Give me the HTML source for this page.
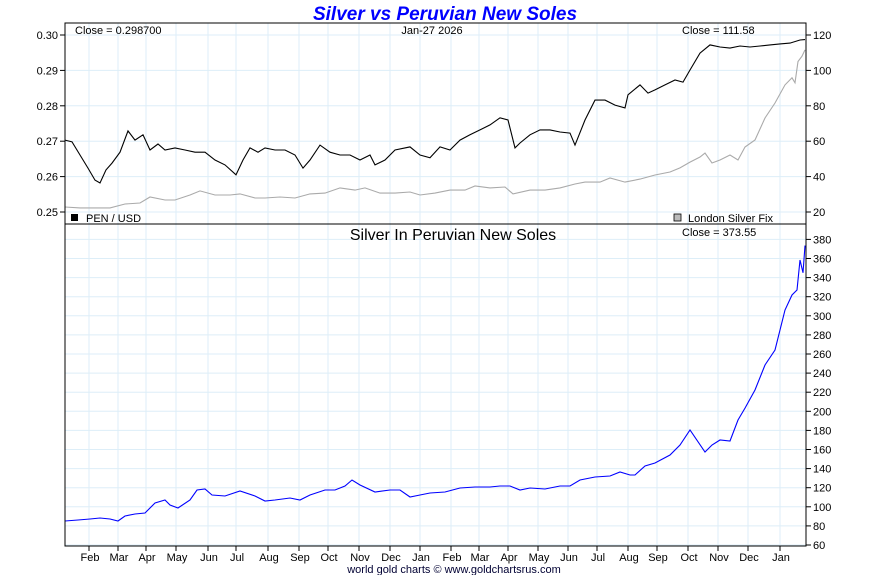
<!DOCTYPE html>
<html><head><meta charset="utf-8"><style>
html,body{margin:0;padding:0;background:#fff;}
svg{display:block;font-family:"Liberation Sans",Arial,sans-serif;}
</style></head><body>
<svg id="chart" width="890" height="575" viewBox="0 0 890 575">
<text x="445" y="20" text-anchor="middle" font-size="19" font-weight="bold" font-style="italic" fill="#0000ff">Silver vs Peruvian New Soles</text>
<g id="grid"></g>
<g id="series"></g>
<rect x="65" y="23" width="741" height="201" fill="none" stroke="#000" stroke-width="1"/>
<rect x="65" y="224" width="741" height="322" fill="none" stroke="#000" stroke-width="1"/>
<g id="axes" font-size="11" fill="#000"></g>
<text x="75" y="34" font-size="11">Close = 0.298700</text>
<text x="432" y="34" font-size="11" text-anchor="middle">Jan-27  2026</text>
<text x="682" y="34" font-size="11">Close = 111.58</text>
<rect x="71" y="214" width="7" height="7" fill="#000"/>
<text x="86" y="222" font-size="11">PEN / USD</text>
<rect x="674" y="214" width="7" height="7" fill="#bbb" stroke="#000" stroke-width="0.8"/>
<text x="688" y="222" font-size="11">London Silver Fix</text>
<text x="453" y="240" font-size="16" text-anchor="middle">Silver In Peruvian New Soles</text>
<text x="682" y="236" font-size="11">Close = 373.55</text>
<text x="454" y="573" font-size="11" text-anchor="middle" fill="#000033">world gold charts © www.goldchartsrus.com</text>
</svg>
<script>
const days=[0,7,15,23,30,35,41,47,55,63,70,78,85,93,100,110,120,130,140,150,160,171,178,185,193,200,210,220,230,238,245,255,265,275,285,295,305,310,320,330,345,355,365,375,385,395,405,415,425,435,443,450,455,465,475,485,495,505,510,520,530,540,550,560,563,575,583,590,600,610,618,625,635,645,655,665,675,685,695,705,715,725,735,740];
const penUsd=[.2703,.2698,.2661,.2624,.2590,.2582,.2619,.2638,.2669,.2729,.2703,.2718,.2675,.2692,.2675,.2681,.2675,.2669,.2669,.2647,.2633,.2605,.2647,.2681,.2669,.2681,.2675,.2675,.2661,.2624,.2647,.2689,.2669,.2661,.2661,.2647,.2661,.2633,.2647,.2675,.2684,.2661,.2653,.2684,.2675,.2703,.2718,.2732,.2746,.2766,.2760,.2681,.2695,.2718,.2732,.2732,.2726,.2723,.2689,.2760,.2816,.2816,.2802,.2794,.2831,.2859,.2836,.2845,.2859,.2873,.2867,.2901,.2949,.2972,.2966,.2963,.2969,.2966,.2969,.2972,.2975,.2977,.2986,.2987];
const silverDays=[0,15,30,45,60,75,85,100,110,125,135,150,165,175,190,200,215,230,245,260,275,290,300,315,330,345,355,370,385,400,410,425,440,448,465,480,495,510,520,535,545,560,575,590,605,615,625,635,640,647,655,665,673,680,690,700,710,720,727,730,733,737,740];
const silverUsd=[22.8,22.3,22.3,22.3,24.5,25.1,28.5,26.8,26.8,29.6,31.9,29.6,29.6,30.2,27.9,27.9,28.5,27.9,30.2,30.7,33.6,32.4,33.6,30.7,30.7,31.3,29.6,30.7,32.4,32.4,34.7,33.6,34.1,30.2,32.4,32.4,33.6,35.8,36.9,36.9,39.2,36.9,38.6,40.9,42.6,44.9,48.2,51.1,53.3,47.7,49.4,52.2,49.4,56.7,60.7,73.1,81.6,91.8,95.8,93,105,108,111.58];
const penDays=[0,13,25,35,45,53,60,70,80,90,100,105,113,125,132,140,147,160,175,190,200,210,225,235,245,260,270,280,287,295,310,325,335,345,355,365,380,395,410,425,435,445,455,465,480,495,505,515,530,545,555,565,570,580,590,605,615,625,640,647,655,665,673,680,690,700,710,720,727,732,735,738,740];
const silverPen=[85.1,86.2,87.2,88.3,87.2,85.1,90.4,92.5,93.5,104,107.1,101.9,98.7,107.1,117.6,118.6,112.4,111.3,116.5,111.3,106.1,107.1,109.2,107.1,112.4,117.6,117.6,121.8,128.1,122.8,115.5,117.6,117.6,110.3,112.4,114.4,115.5,119.7,120.7,120.7,121.8,121.8,117.6,119.7,118.6,121.8,121.8,128.1,131.2,132.2,136.4,133.3,133.3,142.7,145.9,154.2,164.7,180.4,157.4,164.7,169.9,168.9,190.9,203.4,222.3,248.5,264.2,306.1,321.8,327,358.4,345,373.55];
const leftTicks=[0.30,0.29,0.28,0.27,0.26,0.25];
const rightTopTicks=[120,100,80,60,40,20];
const bottomTicks=[380,360,340,320,300,280,260,240,220,200,180,160,140,120,100,80,60];
const monthLabels=["Feb","Mar","Apr","May","Jun","Jul","Aug","Sep","Oct","Nov","Dec","Jan","Feb","Mar","Apr","May","Jun","Jul","Aug","Sep","Oct","Nov","Dec","Jan"];
const monthDays=[24,53,81,111,143,171,203,234,263,294,325,355,386,414,443,473,503,532,563,592,623,653,683,715];

const NS="http://www.w3.org/2000/svg";
const xS=d=>65+d*741/741;
const yPen=v=>35+(0.30-v)*3540;
const ySil=v=>35+(120-v)*1.77;
const yBot=v=>545-(v-60)*19.1/20;
function mk(tag,attrs,parent){const e=document.createElementNS(NS,tag);for(const k in attrs)e.setAttribute(k,attrs[k]);parent.appendChild(e);return e;}
const grid=document.getElementById('grid'),axes=document.getElementById('axes'),series=document.getElementById('series');
monthDays.forEach((d,i)=>{
  const x=xS(d);
  let l=mk('line',{x1:x,x2:x,y1:23,y2:546,stroke:'#ddeef8','stroke-width':1},grid);
  
  
  let t=mk('line',{x1:x,x2:x,y1:546,y2:551,stroke:'#000'},axes);
  
  
  let tx=mk('text',{x:x+1,y:561,'text-anchor':'middle'},axes);tx.textContent=monthLabels[i];
  
  
});
leftTicks.forEach(v=>{
  const y=yPen(v);
  let l=mk('line',{x1:65,x2:806,y1:y,y2:y,stroke:'#ddeef8'},grid);
  
  
  mk('line',{x1:60,x2:65,y1:y,y2:y,stroke:'#000'},axes);
  let t=mk('text',{x:58,y:y+4,'text-anchor':'end'},axes);t.textContent=v.toFixed(2);
  
  
});
rightTopTicks.forEach(v=>{
  const y=ySil(v);
  mk('line',{x1:806,x2:811,y1:y,y2:y,stroke:'#000'},axes);
  let t=mk('text',{x:813,y:y+4},axes);t.textContent=v;
  
  
});
bottomTicks.forEach(v=>{
  const y=yBot(v);
  let l=mk('line',{x1:65,x2:806,y1:y,y2:y,stroke:'#ddeef8'},grid);
  
  
  mk('line',{x1:806,x2:811,y1:y,y2:y,stroke:'#000'},axes);
  let t=mk('text',{x:813,y:y+4},axes);t.textContent=v;
  
  
});
function line(xs,vs,ys,color,name){
  const pts=xs.map((d,i)=>xS(d).toFixed(1)+','+ys(vs[i]).toFixed(1)).join(' ');
  const p=mk('polyline',{points:pts,fill:'none',stroke:color,'stroke-width':1.1},series);
  
  
}
line(silverDays,silverUsd,ySil,'#aaaaaa','silver-usd-line');
line(days,penUsd,yPen,'#000000','pen-usd-line');
line(penDays,silverPen,yBot,'#0000ff','silver-pen-line');
</script>
</body></html>
